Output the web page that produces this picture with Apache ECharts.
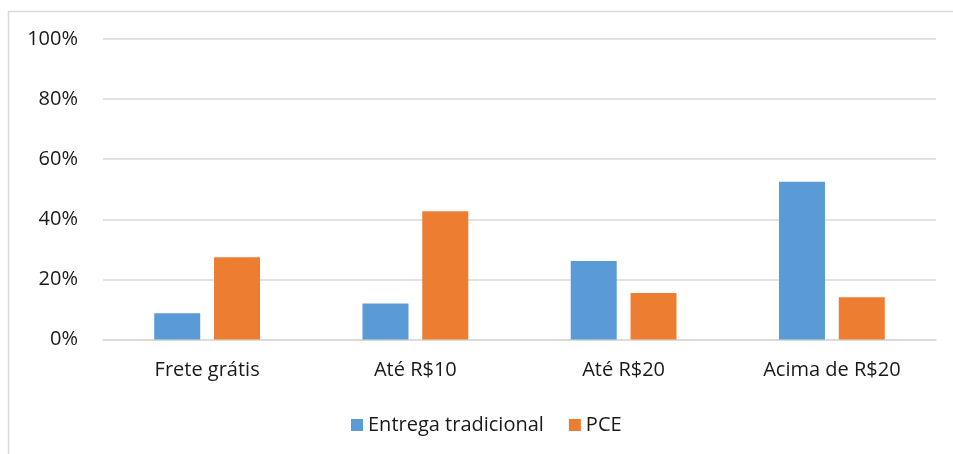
<!DOCTYPE html>
<html>
<head>
<meta charset="utf-8">
<script src="https://cdn.jsdelivr.net/npm/echarts@6/dist/echarts.min.js"></script>
<style>
html,body{margin:0;padding:0;background:#fff;}
#c{width:953px;height:454px;}
</style>
</head>
<body>
<div id="c"></div>
<script>
const categories = ['Frete grátis', 'Até R$10', 'Até R$20', 'Acima de R$20'];
const entregaTradicional = [8.7, 12.0, 26.1, 52.5];
const pce = [27.4, 42.7, 15.5, 14.1];
const seriesNames = ['Entrega tradicional', 'PCE'];

const chart = echarts.init(document.getElementById('c'), null, {renderer: 'canvas'});
const font = '"Open Sans", Lato, sans-serif';
const fs = 20;
chart.setOption({
  animation: false,
  backgroundColor: '#fff',
  textStyle: {fontFamily: font},
  graphic: [{
    type: 'rect', silent: true,
    shape: {x: 8.5, y: 11.5, width: 1200, height: 1000},
    style: {fill: 'none', stroke: '#d9d9d9', lineWidth: 1.5}
  }],
  grid: {left: 103, right: 17, top: 39, bottom: 114.5},
  legend: {
    data: seriesNames,
    top: 415,
    left: 351,
    padding: 0,
    itemWidth: 12, itemHeight: 12, itemGap: 25, itemTextGap: 8,
    icon: 'rect',
    textStyle: {fontFamily: font, fontSize: fs, color: '#1a1a1a'}
  },
  xAxis: {
    type: 'category',
    data: categories,
    axisLine: {show: true, lineStyle: {color: '#d9d9d9', width: 1.5}},
    axisTick: {show: false},
    axisLabel: {fontFamily: font, fontSize: fs, color: '#1a1a1a', margin: 21}
  },
  yAxis: {
    type: 'value',
    min: 0, max: 100, interval: 20,
    axisLine: {show: false},
    axisTick: {show: false},
    splitLine: {lineStyle: {color: '#d9d9d9', width: 1.5}},
    axisLabel: {fontFamily: font, fontSize: fs, color: '#1a1a1a', margin: 25, formatter: '{value}%'}
  },
  series: [
    {name: seriesNames[0], type: 'bar', data: entregaTradicional, barWidth: 46, barGap: '30%', itemStyle: {color: '#5B9BD5'}},
    {name: seriesNames[1], type: 'bar', data: pce, barWidth: 46, barGap: '30%', itemStyle: {color: '#ED7D31'}}
  ]
});
</script>
</body>
</html>
